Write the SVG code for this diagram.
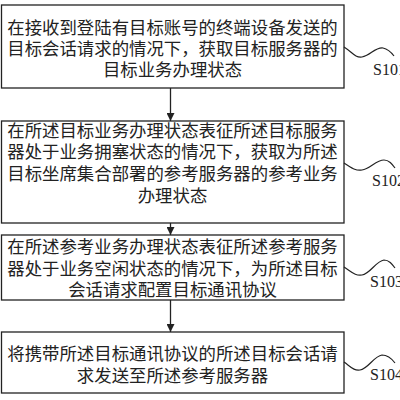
<svg xmlns="http://www.w3.org/2000/svg" width="400" height="400" viewBox="0 0 400 400">
<defs>
<style>
.box{fill:#fff;stroke:#222;stroke-width:1.3}
.t{font-family:"Noto Sans CJK SC","Noto Sans CJK JP",sans-serif;font-size:17.4px;fill:#222;text-anchor:middle}
.lbl{font-family:"Liberation Serif",serif;font-size:16px;fill:#222}
.wave{fill:none;stroke:#222;stroke-width:1.2}
.conn{stroke:#222;stroke-width:1.3;fill:none}
</style>
<marker id="ah" viewBox="0 0 10 10" refX="10" refY="5" markerWidth="8" markerHeight="8" markerUnits="userSpaceOnUse" orient="auto">
<path d="M0,0 L10,5 L0,10 Z" fill="#222"/>
</marker>
</defs>
<rect width="400" height="400" fill="#fff"/>
<g id="connectors">
<line class="conn" x1="170.5" y1="88" x2="170.5" y2="121" marker-end="url(#ah)"/>
<line class="conn" x1="170.5" y1="223" x2="170.5" y2="235" marker-end="url(#ah)"/>
<line class="conn" x1="170.5" y1="300" x2="170.5" y2="332" marker-end="url(#ah)"/>
</g>
<g id="s101">
<rect class="box" x="1.5" y="5" width="342.5" height="83"/>
<text class="t" x="172.5" y="33.5">在接收到登陆有目标账号的终端设备发送的</text>
<text class="t" x="172.5" y="55">目标会话请求的情况下，获取目标服务器的</text>
<text class="t" x="172.5" y="76">目标业务办理状态</text>
<path class="wave" d="M344,47 C352,52 355,58 362,57 C370,56 375,47 383,48 C388,49 391,52 394,56"/>
<text class="lbl" x="373" y="75">S101</text>
</g>
<g id="s102">
<rect class="box" x="1.5" y="121" width="342.5" height="102"/>
<text class="t" x="172.5" y="136.5">在所述目标业务办理状态表征所述目标服务</text>
<text class="t" x="172.5" y="158">器处于业务拥塞状态的情况下，获取为所述</text>
<text class="t" x="172.5" y="180">目标坐席集合部署的参考服务器的参考业务</text>
<text class="t" x="172.5" y="201.5">办理状态</text>
<path class="wave" d="M344,163 C352,168 355,171 362,170 C370,169 376,160 384,160 C389,160 392,164 395,168"/>
<text class="lbl" x="372" y="186">S102</text>
</g>
<g id="s103">
<rect class="box" x="1.5" y="235" width="342.5" height="65"/>
<text class="t" x="172.5" y="253">在所述参考业务办理状态表征所述参考服务</text>
<text class="t" x="172.5" y="274.5">器处于业务空闲状态的情况下，为所述目标</text>
<text class="t" x="172.5" y="296">会话请求配置目标通讯协议</text>
<path class="wave" d="M344,267 C352,272 355,276 362,275 C370,274 376,261 384,260 C389,260 392,264 395,268"/>
<text class="lbl" x="370" y="287">S103</text>
</g>
<g id="s104">
<rect class="box" x="1.5" y="332" width="342.5" height="61"/>
<text class="t" x="172.5" y="359.5">将携带所述目标通讯协议的所述目标会话请</text>
<text class="t" x="172.5" y="381.5">求发送至所述参考服务器</text>
<path class="wave" d="M344,362 C351,367 354,371 360,370 C368,369 374,356 382,355 C388,355 392,359 395,363"/>
<text class="lbl" x="370" y="380">S104</text>
</g>
</svg>
